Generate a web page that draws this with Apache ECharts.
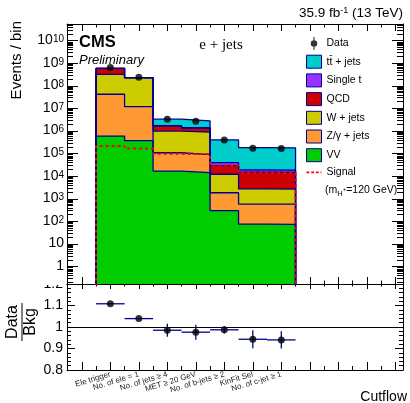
<!DOCTYPE html>
<html>
<head>
<meta charset="utf-8">
<script src="https://cdn.jsdelivr.net/npm/echarts@6/dist/echarts.min.js"></script>
<style>
  html, body { margin: 0; padding: 0; background: #fff; }
  #chart { width: 410px; height: 403px; }
</style>
</head>
<body>
<div id="chart"></div>
<script>
// cutflow bins
const categories = ['Ele trigger', 'No. of ele = 1', 'No. of jets \u2265 4', 'MET \u2265 20 GeV',
  'No. of b-jets \u2265 2', 'KinFit Sel', 'No. of c-jet \u2265 1'];

// background components, events per bin (stack order bottom -> top)
const vv      = [6.0e5, 3.8e5, 1.7e4, 1.45e4, 300, 76, 74];
const zjets   = [4.2e7, 1.16e7, 9.3e4, 7.7e4, 1560, 514, 505];
const wjets   = [2.8e8, 2.17e8, 8.9e5, 8.0e5, 1.04e4, 2160, 2120];
const qcd     = [2.7e8, 1.5e6, 7.0e5, 4.8e5, 1.72e4, 1.24e4, 1.2e4];
const singleT = [2.0e5, 1.5e5, 5.0e4, 4.5e4, 1.03e4, 3900, 3800];
const ttjets  = [1.5e6, 1.2e6, 1.6e6, 1.4e6, 3.67e5, 1.67e5, 1.63e5];
const signal  = [2.2e5, 1.7e5, 9.8e4, 9.6e4, 3.0e4, 1.45e4, 1.4e4];
const dataVals = [6.6e8, 2.4e8, 3.3e6, 2.75e6, 4.0e5, 1.75e5, 1.7e5];

// ratio panel
const ratio    = [1.108, 1.039, 0.985, 0.976, 0.987, 0.943, 0.940];
const ratioErr = [0.002, 0.002, 0.03, 0.035, 0.017, 0.042, 0.04];

// log axis ticks
const majorTicks = [1, 10, 1e2, 1e3, 1e4, 1e5, 1e6, 1e7, 1e8, 1e9, 1e10];
const minorTicks = [];
for (let k = -1; k <= 10; k++) {
  for (let m = 2; m <= 9; m++) {
    const v = m * Math.pow(10, k);
    if (v > 0.17 && v < 5.5e10) minorTicks.push(v);
  }
}
const binCenters = [-1, 0, 1, 2, 3, 4, 5, 6, 7, 8, 9, 10];
const binEdges = [-1.5, -0.5, 0.5, 1.5, 2.5, 3.5, 4.5, 5.5, 6.5, 7.5, 8.5, 9.5];

const XMIN = -1.52, XMAX = 10.27;
const YMIN = 0.17, YMAX = 5.5e10;
const EPS = 1e-3;
const NAVY = '#000099';
const FONT = 'Liberation Sans, Arial, sans-serif';

// histogram outline points for a step line
function hist(vals) {
  const pts = [[-0.5, EPS]];
  vals.forEach((v, i) => pts.push([i - 0.5, v]));
  pts.push([vals.length - 0.5, vals[vals.length - 1]]);
  pts.push([vals.length - 0.5, EPS]);
  return pts;
}

function logLabel(v) {
  const e = Math.round(Math.log10(v));
  if (e === 0) return '{b|1}';
  if (e === 1) return '{b|10}';
  return '{b|10}{sup|' + e + '}';
}

const stackDefs = [
  { name: 'VV', vals: vv, color: '#00cc00' },
  { name: 'Z/\u03b3 + jets', vals: zjets, color: '#ff9933' },
  { name: 'W + jets', vals: wjets, color: '#cccc00' },
  { name: 'QCD', vals: qcd, color: '#cc0000' },
  { name: 'Single t', vals: singleT, color: '#9933ff' },
  { name: 'tt\u0304 + jets', vals: ttjets, color: '#00cccc' }
];
// cumulative sums for the stack
let running = categories.map(() => 0);
stackDefs.forEach(d => {
  running = running.map((s, i) => s + d.vals[i]);
  d.cum = running.slice();
});

function xAx(grid, pos, ticks, len, showLine, extra) {
  return Object.assign({
    type: 'value', gridIndex: grid, position: pos, min: XMIN, max: XMAX,
    axisLine: { show: showLine, onZero: false, lineStyle: { color: '#000', width: 1 } },
    axisTick: { show: true, inside: true, length: len, customValues: ticks, lineStyle: { color: '#000' } },
    axisLabel: { show: false },
    splitLine: { show: false }
  }, extra || {});
}
// tick-only axis laid out in decades, sitting on the log axis
function yDecTicks(pos, ticks, len) {
  return {
    type: 'value', gridIndex: 0, position: pos,
    min: Math.log10(YMIN), max: Math.log10(YMAX),
    axisLine: { show: false, onZero: false },
    axisTick: { show: true, inside: true, length: len, customValues: ticks.map(v => Math.log10(v)), lineStyle: { color: '#000', width: 1 } },
    axisLabel: { show: false },
    splitLine: { show: false }
  };
}
function yRatio(pos, extra) {
  return Object.assign({
    type: 'value', gridIndex: 1, position: pos, min: 0.8, max: 1.2, interval: 0.1,
    axisLine: { show: true, onZero: false, lineStyle: { color: '#000', width: 1 } },
    axisTick: { show: true, inside: true, length: 8, lineStyle: { color: '#000' } },
    minorTick: { show: true, splitNumber: 5, length: 4, lineStyle: { color: '#000' } },
    axisLabel: { show: false },
    splitLine: { show: false }
  }, extra || {});
}

const chart = echarts.init(document.getElementById('chart'));

const series = [];
// top of stack first, lower layers drawn over it
stackDefs.slice().reverse().forEach(d => {
  series.push({
    name: d.name, type: 'line', xAxisIndex: 0, yAxisIndex: 0,
    step: 'end', symbol: 'none', silent: true,
    data: hist(d.cum),
    itemStyle: { color: d.color },
    lineStyle: { color: NAVY, width: 1.3 },
    areaStyle: { color: d.color, opacity: 1, origin: 'start' }
  });
});
series.push({
  name: 'Signal', type: 'line', xAxisIndex: 0, yAxisIndex: 0,
  step: 'end', symbol: 'none', silent: true, z: 5,
  data: hist(signal),
  itemStyle: { color: '#ff0000' },
  lineStyle: { color: '#ff0000', width: 2, type: [3, 3] }
});
series.push({
  name: 'Data', type: 'scatter', xAxisIndex: 0, yAxisIndex: 0, z: 6,
  symbolSize: 7, itemStyle: { color: '#000' },
  data: dataVals.map((v, i) => [i, v])
});
series.push({
  name: 'ratioErr', type: 'custom', xAxisIndex: 4, yAxisIndex: 5, silent: true,
  data: ratio.map((r, i) => [i, r, ratioErr[i]]),
  renderItem: function (params, api) {
    const x = api.value(0), y = api.value(1), e = api.value(2);
    const l = api.coord([x - 0.5, y]), r = api.coord([x + 0.5, y]);
    const t = api.coord([x, y + e]), b = api.coord([x, y - e]);
    const st = { stroke: NAVY, lineWidth: 1.3 };
    return {
      type: 'group', children: [
        { type: 'line', shape: { x1: l[0], y1: l[1], x2: r[0], y2: r[1] }, style: st },
        { type: 'line', shape: { x1: t[0], y1: t[1], x2: b[0], y2: b[1] }, style: st }
      ]
    };
  }
});
series.push({
  name: 'ratio', type: 'scatter', xAxisIndex: 4, yAxisIndex: 5, z: 6,
  symbolSize: 7, itemStyle: { color: '#000' },
  data: ratio.map((r, i) => [i, r]),
  markLine: {
    silent: true, symbol: 'none', label: { show: false },
    lineStyle: { color: '#000', width: 1, type: 'solid' },
    data: [{ yAxis: 1 }]
  }
});

const legendData = [
  { name: 'Data', icon: 'path://M6.5,0H7.5V12H6.5Z M10,6A3,3 0 1,1 4,6A3,3 0 1,1 10,6Z', itemStyle: { color: '#000' } }
];
stackDefs.slice().reverse().forEach(d => {
  legendData.push({ name: d.name, icon: 'rect', itemStyle: { color: d.color, borderColor: NAVY, borderWidth: 1 } });
});
legendData.push({
  name: 'Signal',
  icon: 'path://M0,5H3V7H0Z M5,5H8V7H5Z M10,5H13V7H10Z M15,5H16V7H15Z',
  itemStyle: { color: '#ff0000', borderWidth: 0 }
});

const option = {
  animation: false,
  backgroundColor: '#fff',
  grid: [
    { left: 67, right: 7, top: 24, height: 260 },
    { left: 67, right: 7, top: 284, height: 86 }
  ],
  legend: {
    data: legendData, orient: 'vertical', left: 306, top: 37, padding: 0,
    itemWidth: 15, itemHeight: 13, itemGap: 4.7, selectedMode: false,
    textStyle: { fontFamily: FONT, fontSize: 10.5, color: '#000' }
  },
  xAxis: [
    xAx(0, 'bottom', binCenters, 7, true),
    xAx(0, 'bottom', binEdges, 3.5, false),
    xAx(0, 'top', binCenters, 7, true),
    xAx(0, 'top', binEdges, 3.5, false),
    xAx(1, 'bottom', binCenters, 8, true, {
      axisLabel: {
        show: true, customValues: [0, 1, 2, 3, 4, 5, 6], rotate: 17, margin: 4,
        fontFamily: FONT, fontSize: 8, color: '#222',
        formatter: v => categories[Math.round(v)] || ''
      }
    }),
    xAx(1, 'bottom', binEdges, 4, false),
    xAx(1, 'top', binCenters, 5, true),
    xAx(1, 'top', binEdges, 2.5, false)
  ],
  yAxis: [
    {
      type: 'log', gridIndex: 0, position: 'left', min: YMIN, max: YMAX,
      axisLine: { show: true, onZero: false, lineStyle: { color: '#000', width: 1 } },
      axisTick: { show: false },
      splitLine: { show: false },
      axisLabel: {
        show: true, customValues: majorTicks, margin: 3, formatter: logLabel,
        showMinLabel: true, showMaxLabel: true, color: '#000',
        rich: {
          b: { fontFamily: FONT, fontSize: 14, lineHeight: 13, verticalAlign: 'bottom', color: '#000' },
          sup: { fontFamily: FONT, fontSize: 10, lineHeight: 10, padding: [0, 0, 8, 0], verticalAlign: 'top', color: '#000' }
        }
      }
    },
    {
      type: 'log', gridIndex: 0, position: 'right', min: YMIN, max: YMAX,
      axisLine: { show: true, onZero: false, lineStyle: { color: '#000', width: 1 } },
      axisTick: { show: false }, axisLabel: { show: false }, splitLine: { show: false }
    },
    yDecTicks('left', majorTicks, 11),
    yDecTicks('left', minorTicks, 6),
    yDecTicks('right', majorTicks, 11),
    yRatio('left', {
      axisLabel: {
        show: true, margin: 4, fontFamily: FONT, fontSize: 14, color: '#000',
        formatter: v => String(Math.round(v * 10) / 10)
      }
    }),
    yRatio('right'),
    yDecTicks('right', minorTicks, 6)
  ],
  graphic: [
    // upper pad hides the top half of the ratio "1.2" label
    { type: 'rect', left: 36, top: 276, shape: { width: 29, height: 9 }, style: { fill: '#fff' }, z: 100 },
    {
      type: 'text', right: 7, top: 6,
      style: {
        text: '35.9 fb{sup|-1} (13 TeV)', fontFamily: FONT, fontSize: 13.5, fill: '#000',
        rich: { sup: { fontFamily: FONT, fontSize: 9, verticalAlign: 'top', lineHeight: 8 } }
      }
    },
    { type: 'text', x: 79, y: 34, style: { text: 'CMS', fontFamily: FONT, fontWeight: 'bold', fontSize: 16.5, fill: '#000' } },
    { type: 'text', x: 79, y: 60, style: { text: 'Preliminary', fontFamily: FONT, fontStyle: 'italic', fontSize: 13, fill: '#000', verticalAlign: 'middle' } },
    { type: 'text', x: 221, y: 45, style: { text: 'e + jets', fontFamily: 'Liberation Serif, Times New Roman, serif', fontSize: 15, fill: '#000', align: 'center', verticalAlign: 'middle' } },
    {
      type: 'text', x: 325, y: 190,
      style: {
        text: '(m{sub|H}{sup|+}=120 GeV)', fontFamily: FONT, fontSize: 10.5, fill: '#000', verticalAlign: 'middle',
        rich: {
          sub: { fontFamily: FONT, fontSize: 7.5, padding: [8, 0, 0, 0] },
          sup: { fontFamily: FONT, fontSize: 6, padding: [0, 0, 2, 0] }
        }
      }
    },
    { type: 'text', x: 407, y: 397, style: { text: 'Cutflow', fontFamily: FONT, fontSize: 14, fill: '#000', align: 'right', verticalAlign: 'middle' } },
    {
      type: 'text', x: 17, y: 21, rotation: Math.PI / 2,
      style: { text: 'Events / bin', fontFamily: FONT, fontSize: 15, fill: '#000', align: 'right', verticalAlign: 'middle' }
    },
    {
      type: 'group', x: 22, y: 322, rotation: Math.PI / 2,
      children: [
        { type: 'text', x: 0, y: -1, style: { text: 'Data', fontFamily: FONT, fontSize: 16, fill: '#000', align: 'center', verticalAlign: 'bottom' } },
        { type: 'line', shape: { x1: -19, y1: 0, x2: 19, y2: 0 }, style: { stroke: '#000', lineWidth: 1 } },
        { type: 'text', x: 0, y: 1, style: { text: 'Bkg', fontFamily: FONT, fontSize: 16, fill: '#000', align: 'center', verticalAlign: 'top' } }
      ]
    }
  ],
  series: series
};

chart.setOption(option);
window.addEventListener('resize', function () {
  chart.resize();
});
</script>
</body>
</html>
